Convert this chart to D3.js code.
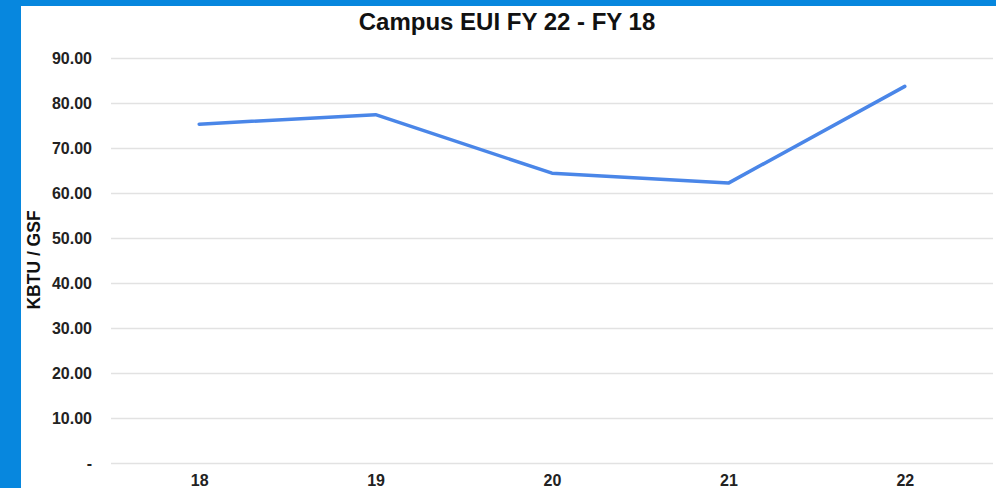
<!DOCTYPE html>
<html>
<head>
<meta charset="utf-8">
<script src="https://cdn.jsdelivr.net/npm/d3@7"></script>
<style>
    body { margin: 0; background: #fff; }
    svg { display: block; font-family: 'Liberation Sans', Arial, sans-serif; }
    .grid line { stroke: #e2e2e2; stroke-width: 1.5; }
    .axis text { font-size: 16px; font-weight: bold; fill: #222; }
</style>
</head>
<body>
<svg id="chart"></svg>
<script>
// Fiscal years and campus EUI (KBTU / GSF)
const years = ['18', '19', '20', '21', '22'];
const eui = [75.3, 77.4, 64.4, 62.2, 83.7];
const yTicks = [0, 10, 20, 30, 40, 50, 60, 70, 80, 90];

const width = 996;
const height = 488;
const plot = { left: 111, right: 993, top: 58, bottom: 463 };

const svg = d3.select('#chart')
    .attr('width', width)
    .attr('height', height);

// Blue frame behind the white card
svg.append('rect')
    .attr('width', width)
    .attr('height', height)
    .attr('fill', '#0787de');
svg.append('rect')
    .attr('x', 21)
    .attr('y', 6)
    .attr('width', width - 21)
    .attr('height', height - 6)
    .attr('fill', '#fff');

const x = d3.scalePoint()
    .domain(years)
    .range([plot.left, plot.right])
    .padding(0.5);

const y = d3.scaleLinear()
    .domain([0, 90])
    .range([plot.bottom, plot.top]);

// Y axis with gridlines
const yAxis = svg.append('g')
    .attr('class', 'axis grid')
    .attr('transform', `translate(${plot.left},0)`)
    .call(d3.axisLeft(y)
        .tickValues(yTicks)
        .tickSize(-(plot.right - plot.left))
        .tickPadding(19)
        .tickFormat(d => d === 0 ? '-' : d3.format('.2f')(d)));
yAxis.select('.domain').remove();

// X axis
const xAxis = svg.append('g')
    .attr('class', 'axis')
    .attr('transform', `translate(0,${plot.bottom})`)
    .call(d3.axisBottom(x).tickSize(0).tickPadding(12));
xAxis.select('.domain').remove();

// Line
const line = d3.line()
    .x((d, i) => x(years[i]))
    .y(d => y(d));

svg.append('path')
    .datum(eui)
    .attr('d', line)
    .attr('fill', 'none')
    .attr('stroke', '#4a86e8')
    .attr('stroke-width', 3.5)
    .attr('stroke-linejoin', 'round')
    .attr('stroke-linecap', 'round');

// Title
svg.append('text')
    .attr('x', 507)
    .attr('y', 30)
    .attr('text-anchor', 'middle')
    .attr('font-size', '24px')
    .attr('font-weight', 'bold')
    .attr('fill', '#111')
    .text('Campus EUI FY 22 - FY 18');

// Y axis title
svg.append('text')
    .attr('transform', 'translate(40,260) rotate(-90)')
    .attr('text-anchor', 'middle')
    .attr('font-size', '17.5px')
    .attr('font-weight', 'bold')
    .attr('fill', '#111')
    .text('KBTU / GSF');
</script>
</body>
</html>
